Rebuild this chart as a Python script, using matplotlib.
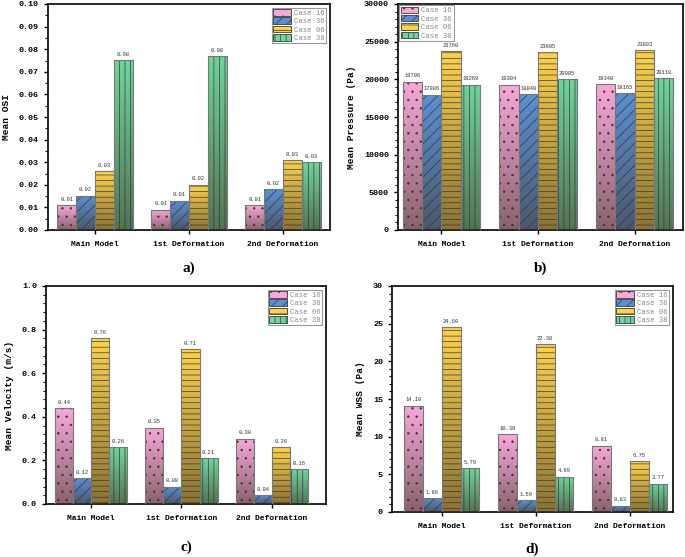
import numpy as np
import matplotlib.pyplot as plt
from matplotlib.ticker import MultipleLocator

plt.rcParams['font.family'] = ['Liberation Mono', 'DejaVu Sans Mono']
plt.rcParams['hatch.linewidth'] = 0.5

categories = ['Main Model', '1st Deformation', '2nd Deformation']
cases = ['Case 16', 'Case 36', 'Case 06', 'Case 38']

osi_16 = [0.011, 0.009, 0.011]
osi_36 = [0.0152, 0.013, 0.018]
osi_06 = [0.026, 0.020, 0.031]
osi_38 = [0.0752, 0.077, 0.030]

pres_16 = [19706, 19304, 19340]
pres_36 = [17986, 18048, 18165]
pres_06 = [23760, 23605, 23893]
pres_38 = [19269, 20005, 20118]

vel_16 = [0.44, 0.35, 0.30]
vel_36 = [0.12, 0.08, 0.04]
vel_06 = [0.76, 0.71, 0.26]
vel_38 = [0.26, 0.21, 0.16]

wss_16 = [14.10, 10.30, 8.81]
wss_36 = [1.86, 1.59, 0.83]
wss_06 = [24.50, 22.30, 6.75]
wss_38 = [5.79, 4.69, 3.77]

colors = ['#f7a8d8', '#5b8fd3', '#fbd24e', '#70d49c']
hatches = ['..', '///', '---', '|||']

fig = plt.figure(figsize=(6.85, 5.57), dpi=100)
W, H = 685, 557


def add_ax(l, t, r, b):
    return fig.add_axes([l / W, 1 - b / H, (r - l) / W, (b - t) / H])


# dark overlay that gets stronger towards the bottom of each bar
shade = np.zeros((64, 1, 4))
shade[:, 0, :3] = [0.25, 0.2, 0.15]
shade[:, 0, 3] = np.linspace(0.0, 0.6, 64)


def panel(ax, series, ylim, major, minor, ylabel, fmt, xlim, letter, letter_y, leg_loc, pad=0.5):
    x = np.arange(len(categories))
    w = 0.2
    handles = []
    for i, vals in enumerate(series):
        pos = x + (i - 1.5) * w
        bars = ax.bar(pos, vals, w, color=colors[i], hatch=hatches[i],
                      edgecolor='#3a3a3a', linewidth=0.6, zorder=2, label=cases[i])
        handles.append(bars)
        for b in bars:
            x0, y0 = b.get_x(), b.get_y()
            im = ax.imshow(shade, extent=[x0, x0 + b.get_width(), y0, y0 + b.get_height()],
                           aspect='auto', zorder=3, interpolation='bilinear')
            im.set_clip_path(b)
            ax.bar(b.get_x() + w / 2, b.get_height(), w, fill=False,
                   edgecolor='#777777', linewidth=0.8, zorder=4)
        for p, v in zip(pos, vals):
            ax.text(p, v + (ylim[1] - ylim[0]) * 0.015, fmt % v, ha='center', va='bottom',
                    fontsize=4, color='#333333', zorder=5)
    ax.set_xlim(*xlim)
    ax.set_ylim(*ylim)
    ax.set_xticks(x)
    ax.set_xticklabels(categories, fontsize=5.8, fontweight='bold')
    ax.yaxis.set_major_locator(MultipleLocator(major))
    ax.yaxis.set_minor_locator(MultipleLocator(minor))
    ax.tick_params(axis='y', labelsize=6, direction='out', width=1, length=3)
    ax.tick_params(axis='y', which='minor', length=2, width=0.8)
    ax.tick_params(axis='x', direction='out', width=1, length=3, pad=5)
    for lab in ax.get_yticklabels():
        lab.set_fontweight('bold')
    for s in ax.spines.values():
        s.set_linewidth(1.2)
    ax.set_ylabel(ylabel, fontsize=6.8, fontweight='bold', labelpad=6)
    leg = ax.legend(handles=handles, loc=leg_loc, fontsize=5.2, fancybox=False,
                    edgecolor='#999999', framealpha=1, handlelength=2.4,
                    handleheight=1.0, borderaxespad=pad, labelspacing=0.1,
                    borderpad=0.2, handletextpad=0.5)
    for t in leg.get_texts():
        t.set_color('#888888')
    leg.get_frame().set_linewidth(0.8)
    fig.text(ax.get_position().x0 + ax.get_position().width / 2, 1 - letter_y / H, letter,
             fontsize=11, fontweight='bold', family='Liberation Serif', ha='center', va='center')


ax_a = add_ax(48, 4, 330, 230)
panel(ax_a, [osi_16, osi_36, osi_06, osi_38], (0, 0.10), 0.01, 0.005, 'Mean OSI',
      '%.2f', (-0.5, 2.5), 'a)', 268, 'upper right')

ax_b = add_ax(398, 4, 683, 230)
panel(ax_b, [pres_16, pres_36, pres_06, pres_38], (0, 30000), 5000, 1000, 'Mean Pressure (Pa)',
      '%d', (-0.45, 2.5), 'b)', 268, 'upper left', pad=0.15)

ax_c = add_ax(46, 286, 326, 504)
panel(ax_c, [vel_16, vel_36, vel_06, vel_38], (0, 1.0), 0.2, 0.04, 'Mean Velocity (m/s)',
      '%.2f', (-0.5, 2.6), 'c)', 547, 'upper right')

ax_d = add_ax(392, 286, 673, 512)
panel(ax_d, [wss_16, wss_36, wss_06, wss_38], (0, 30), 5, 1, 'Mean WSS (Pa)',
      '%.2f', (-0.53, 2.46), 'd)', 549, 'upper right')

fig.savefig('out.png', dpi=100)
